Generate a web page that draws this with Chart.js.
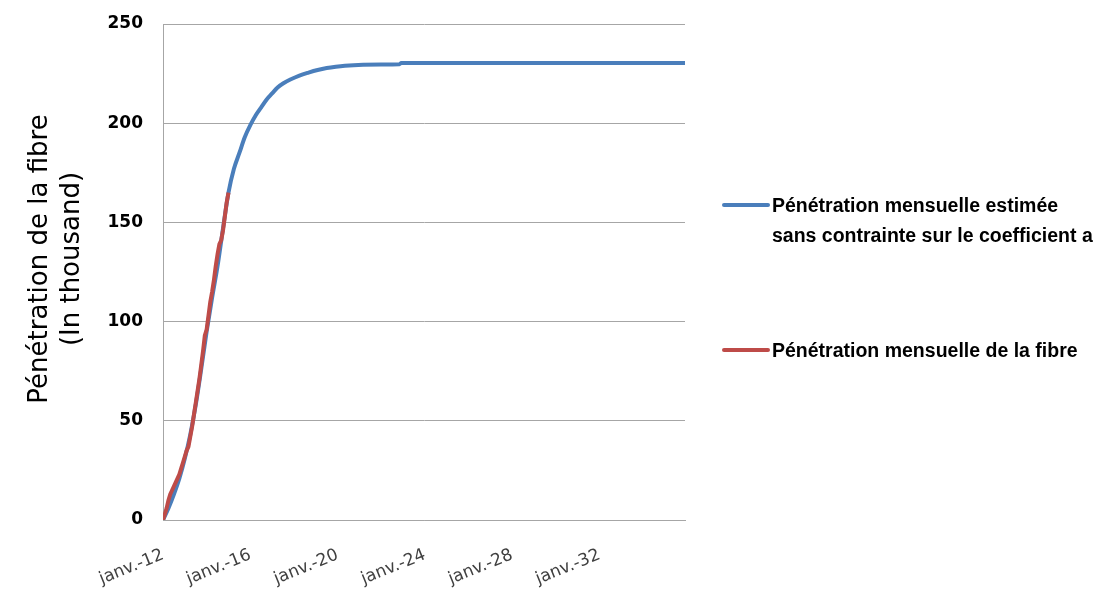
<!DOCTYPE html>
<html>
<head>
<meta charset="utf-8">
<script src="https://cdn.jsdelivr.net/npm/chart.js@4/dist/chart.umd.min.js"></script>
<style>
  html, body { margin:0; padding:0; background:#fff; }
  #wrap { position:relative; width:1094px; height:589px; }
  #legend { position:absolute; left:722px; top:0; font-family:'Liberation Sans', Arial, sans-serif; font-weight:bold; font-size:19.5px; color:#000; }
  .lg-item { position:absolute; left:0; display:flex; align-items:flex-start; white-space:nowrap; }
  .lg-line { width:48px; height:4px; border-radius:2px; margin-right:2px; }
  .lg-text { line-height:30px; }
</style>
</head>
<body>
<div id="wrap">
  <canvas id="chart" width="1094" height="589"></canvas>
  <div id="legend"></div>
</div>
<script>
// months since janv. 2012
const blueMonths = [0,3,6,9,12,15,18,21,24,27,30,33,36,39,42,45,48,51,54,57,60,63,66,70,75,80,85,90,95,100,110,120,130,131,150,200,250,287];
const blueValues = [0,6,13,21,31,43,58,76,95,112,128,147,165,177,185,193,199,204,208,212,215,218,220,222,224,225.5,226.8,227.8,228.5,229,229.5,229.6,229.7,230.3,230.3,230.3,230.3,230.3];

const redValues = [0,3,6,10,13,15,17,19,21,23,26,29,32,35,37,42,47,53,59,65,71,78,85,93,96,103,110,115,121,128,134,139,141,146,153,160,165];

const seriesLabels = ['Pénétration mensuelle estimée\nsans contrainte sur le coefficient a', 'Pénétration mensuelle de la fibre'];
const seriesColors = ['#4a7ebb', '#be4b48'];
const legendTops = [190, 335];

const yTicks = [0, 50, 100, 150, 200, 250];
const yTitleLines = ['Pénétration de la fibre', '(In thousand)'];
const xTickMonths = [0, 48, 96, 144, 192, 240];
const xTickLabels = ['janv.-12','janv.-16','janv.-20','janv.-24','janv.-28','janv.-32'];

const gridGray = '#a6a6a6';

// y axis title, centred a little above the plot middle like the original
const yTitlePlugin = {
  id: 'yTitle',
  afterDraw(chart) {
    const ctx = chart.ctx;
    ctx.save();
    ctx.font = '26px "DejaVu Sans"';
    ctx.fillStyle = '#000';
    ctx.textAlign = 'center';
    ctx.textBaseline = 'middle';
    yTitleLines.forEach((t, i) => {
      ctx.save();
      ctx.translate(40 + i * 32, 259);
      ctx.rotate(-Math.PI / 2);
      ctx.fillText(t, 0, 0);
      ctx.restore();
    });
    ctx.restore();
  }
};

const chart = new Chart(document.getElementById('chart'), {
  type: 'line',
  data: {
    datasets: [
      { label: seriesLabels[0], data: blueMonths.map((m,i) => ({x:m, y:blueValues[i]})),
        borderColor: seriesColors[0], borderWidth: 4, pointRadius: 0, cubicInterpolationMode: 'monotone', order: 1 },
      { label: seriesLabels[1], data: redValues.map((v,i) => ({x:i, y:v})),
        borderColor: seriesColors[1], borderWidth: 4, pointRadius: 0, tension: 0, order: 0 }
    ]
  },
  options: {
    responsive: false, animation: false,
    layout: { padding: { top: 24, right: 409, bottom: 0, left: 0 } },
    plugins: { legend: { display: false }, tooltip: { enabled: false } },
    scales: {
      x: {
        type: 'linear', min: 0, max: 287,
        grid: { display: false, drawTicks: false },
        border: { display: true, color: gridGray, width: 1 },
        afterBuildTicks: s => { s.ticks = xTickMonths.map(v => ({ value: v })); },
        afterFit: s => { s.height = 69; s.paddingLeft = 0; s.paddingRight = 0; },
        ticks: {
          autoSkip: false, maxRotation: 22, minRotation: 22, padding: 25,
          color: '#404040', font: { family: 'DejaVu Sans', size: 17 },
          callback: v => xTickLabels[xTickMonths.indexOf(v)]
        }
      },
      y: {
        min: 0, max: 250,
        afterBuildTicks: s => { s.ticks = yTicks.map(v => ({ value: v })); },
        afterFit: s => { s.width = 163; s.paddingTop = 0; s.paddingBottom = 0; },
        grid: { color: gridGray, lineWidth: 1, drawTicks: false },
        border: { display: true, color: gridGray, width: 1 },
        ticks: { padding: 20, color: '#000', font: { family: 'DejaVu Sans', size: 17, weight: 'bold' } }
      }
    }
  },
  plugins: [yTitlePlugin]
});

const legendEl = document.getElementById('legend');
legendEl.innerHTML = chart.data.datasets.map((d, i) => `
  <div class="lg-item" style="top:${legendTops[i]}px">
    <span class="lg-line" style="background:${d.borderColor};margin-top:13px"></span>
    <span class="lg-text">${d.label.split('\n').join('<br>')}</span>
  </div>
`).join('');
</script>
</body>
</html>
